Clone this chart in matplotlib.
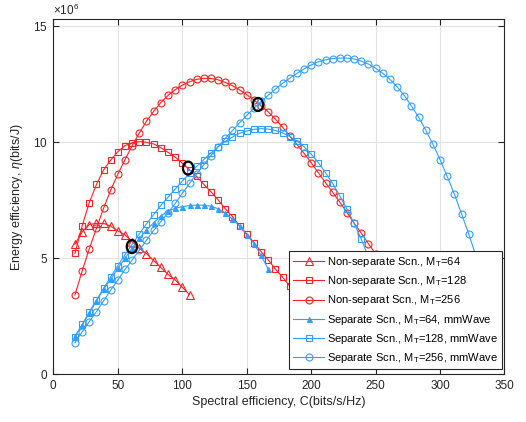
import matplotlib
matplotlib.use('Agg')
import matplotlib.pyplot as plt
from matplotlib.patches import Ellipse
from matplotlib.ticker import ScalarFormatter

plt.rcParams['font.family'] = ['Liberation Sans', 'DejaVu Sans']
plt.rcParams['mathtext.fontset'] = 'custom'
plt.rcParams['mathtext.rm'] = 'Liberation Sans'
plt.rcParams['mathtext.it'] = 'Liberation Sans:italic'
plt.rcParams['mathtext.default'] = 'regular'

# common spectral-efficiency grid (bits/s/Hz)
x_grid = [16.8, 22.4, 27.9, 33.5, 39.0, 44.6, 50.1, 55.7, 61.2, 66.8,
          72.3, 77.9, 83.4, 89.0, 94.6, 100.1, 105.7, 111.2, 116.8, 122.3,
          127.9, 133.4, 139.0, 144.5, 150.1, 155.7, 161.2, 166.8, 172.3, 177.9,
          183.4, 189.0, 194.5, 200.1, 205.6, 211.2, 216.7, 222.3, 227.9, 233.4,
          239.0, 244.5, 250.1, 255.6, 261.2, 266.7, 272.3, 277.8, 283.4, 288.9,
          294.5, 300.1, 305.6, 311.2, 316.7, 322.3, 327.8, 333.4]

# energy efficiency values (x 1e6 bits/J)
ns_64 = [5.60, 6.13, 6.45, 6.50, 6.50, 6.38, 6.18, 6.00, 5.71, 5.42, 5.20, 4.90,
         4.60, 4.30, 4.06, 3.75, 3.43]
ns_128 = [5.21, 6.39, 7.39, 8.18, 8.80, 9.23, 9.59, 9.85, 9.97, 10.02, 9.99, 9.92,
          9.76, 9.56, 9.35, 9.09, 8.80, 8.52, 8.18, 7.86, 7.51, 7.13, 6.79, 6.39,
          6.04, 5.67, 5.28, 4.92, 4.53, 4.18, 3.80, 3.42]
ns_256 = [3.41, 4.45, 5.40, 6.29, 7.15, 7.94, 8.62, 9.25, 9.85, 10.40, 10.90, 11.33,
          11.70, 12.01, 12.26, 12.45, 12.60, 12.70, 12.75, 12.74, 12.68, 12.57, 12.43,
          12.25, 12.04, 11.81, 11.56, 11.30, 10.99, 10.64, 10.26, 9.90, 9.52, 9.11,
          8.68, 8.25, 7.84, 7.41, 6.96, 6.50, 6.07, 5.62, 5.18, 4.74]
s_64 = [1.65, 2.12, 2.63, 3.16, 3.66, 4.09, 4.56, 5.00, 5.43, 5.86, 6.21, 6.53,
        6.82, 7.03, 7.15, 7.22, 7.27, 7.29, 7.28, 7.24, 7.13, 6.95, 6.68, 6.38,
        6.02, 5.62, 5.12, 4.52]
s_128 = [1.60, 2.15, 2.68, 3.20, 3.70, 4.20, 4.68, 5.15, 5.60, 6.05, 6.48, 6.88,
         7.27, 7.63, 7.98, 8.32, 8.65, 8.95, 9.25, 9.53, 9.80, 10.03, 10.22, 10.38,
         10.48, 10.55, 10.58, 10.56, 10.50, 10.40, 10.24, 10.05, 9.80, 9.48, 9.11,
         8.68, 8.22, 7.68, 7.10, 6.50, 5.81, 5.05]
s_256 = [1.36, 1.83, 2.27, 2.70, 3.16, 3.63, 4.06, 4.52, 4.92, 5.35, 5.78, 6.20,
         6.57, 6.96, 7.36, 7.79, 8.22, 8.63, 9.03, 9.42, 9.80, 10.16, 10.50, 10.83,
         11.15, 11.46, 11.75, 12.02, 12.28, 12.53, 12.75, 12.96, 13.15, 13.32, 13.46,
         13.54, 13.60, 13.62, 13.62, 13.58, 13.48, 13.36, 13.18, 12.96, 12.70, 12.38,
         12.00, 11.56, 11.07, 10.52, 9.90, 9.24, 8.52, 7.75, 6.91, 6.04, 5.10, 4.10]

# highlighted intersection points
mark_x = [61.0, 104.6, 158.8]
mark_y = [5.50, 8.88, 11.62]

labels = ['Non-separate Scn., M$_T$=64',
          'Non-separate Scn., M$_T$=128',
          'Non-separat Scn., M$_T$=256',
          'Separate Scn., M$_T$=64, mmWave',
          'Separate Scn., M$_T$=128, mmWave',
          'Separate Scn., M$_T$=256, mmWave']

x_ticks = [0, 50, 100, 150, 200, 250, 300, 350]
y_ticks = [0, 5e6, 10e6, 15e6]

RED = '#FF2020'
BLUE = '#30A0FF'
DARK = '#262626'

fig = plt.figure(figsize=(5.26, 4.22), dpi=100)
ax = fig.add_axes([0.1013, 0.113, 0.8578, 0.8408])

def scaled(v):
    return [e * 1e6 for e in v]

series = [
    (ns_64, RED, '^', 5.6, 'none'),
    (ns_128, RED, 's', 4.4, 'none'),
    (ns_256, RED, 'o', 5.0, 'none'),
    (s_64, BLUE, '^', 3.6, BLUE),
    (s_128, BLUE, 's', 4.0, 'none'),
    (s_256, BLUE, 'o', 5.0, 'none'),
]
for (vals, col, mk, ms, mfc), lab in zip(series, labels):
    ax.plot(x_grid[:len(vals)], scaled(vals), color=col, lw=0.8, marker=mk,
            ms=ms, mfc=mfc, mec=col, mew=0.8, label=lab)

for mx, my in zip(mark_x, mark_y):
    ax.add_patch(Ellipse((mx, my * 1e6), width=8.0, height=0.56e6,
                         fill=False, ec='black', lw=1.6, zorder=5))

ax.set_xlim(0, 350)
ax.set_ylim(0, 15.28e6)
ax.set_xticks(x_ticks)
ax.set_yticks(y_ticks)
fmt = ScalarFormatter(useMathText=True)
fmt.set_powerlimits((6, 6))
ax.yaxis.set_major_formatter(fmt)
ax.yaxis.get_offset_text().set_fontsize(8.5)
ax.yaxis.get_offset_text().set_color(DARK)

ax.grid(True, color='#E3E3E3', lw=0.8)
ax.set_axisbelow(True)
for s in ax.spines.values():
    s.set_color(DARK)
    s.set_linewidth(0.8)
ax.tick_params(direction='in', length=4, width=0.8, top=True, right=True,
               labelsize=8.5, colors=DARK, pad=4)

ax.set_xlabel('Spectral efficiency, C(bits/s/Hz)', fontsize=9, color=DARK, labelpad=3)
ax.set_ylabel(r'Energy efficiency, $\mathit{\eta}$(bits/J)', fontsize=9, color=DARK, labelpad=6)

leg = ax.legend(loc='lower right', bbox_to_anchor=(0.994, 0.015), borderaxespad=0,
                fontsize=8, handlelength=2.8, handletextpad=0.25, labelspacing=0.47,
                borderpad=0.35, fancybox=False, framealpha=1, edgecolor=DARK)
leg.get_frame().set_linewidth(0.8)

fig.savefig('out.png', dpi=100)
